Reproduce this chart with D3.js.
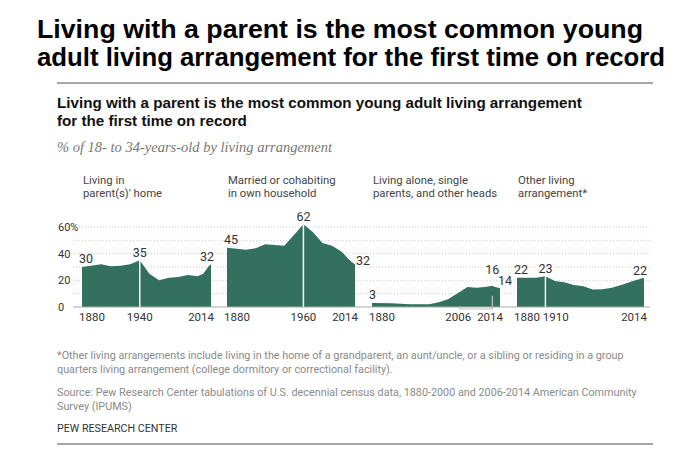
<html>
<head>
<meta charset="utf-8">
<script src="https://d3js.org/d3.v7.min.js"></script>
<style>
  body { margin: 0; background: #fff; }
  text { font-family: Roboto, "Liberation Sans", sans-serif; }
</style>
</head>
<body>
<svg id="chart" width="687" height="467"></svg>
<script>
// census years, then the annual ACS years
var years = [1880, 1900, 1910, 1920, 1930, 1940, 1950, 1960, 1970, 1980, 1990, 2000,
             2006, 2007, 2008, 2009, 2010, 2011, 2012, 2013, 2014];

var parentHome = [30, 32, 30.5, 31, 32, 35, 25, 20, 22, 22.5, 24, 23,
                  25, 26, 27, 28, 29, 30, 31, 31.5, 32];
var married    = [44.5, 43, 44, 47, 46.5, 46, 54, 62, 56, 48, 46, 41.5,
                  37, 36, 35.5, 35, 34, 33.5, 33, 32.5, 32];
var alone      = [3, 2.8, 2.5, 2, 2, 2, 3.5, 6, 10.5, 15, 14.5, 15.2,
                  16, 15.6, 15.2, 15, 14.8, 14.6, 14.4, 14.2, 14];
var other      = [22, 22, 23, 19.5, 18.5, 16.5, 15.5, 13.2, 13.3, 14.5, 16.5, 19,
                  20.3, 20.5, 20.7, 20.9, 21.1, 21.3, 21.5, 21.7, 21.8];

var yLabelTicks = [0, 20, 40, 60];
var gridTicks = [10, 20, 30, 40, 50, 60];

var panels = [
  {head: ["Living in", "parent(s)' home"], values: parentHome, ticks: [1880, 1940, 2014], peak: 1940, range: [82, 211], endSide: "above"},
  {head: ["Married or cohabiting", "in own household"], values: married, ticks: [1880, 1960, 2014], peak: 1960, range: [227, 355], endSide: "right"},
  {head: ["Living alone, single", "parents, and other heads"], values: alone, ticks: [1880, 2006, 2014], peak: 2006, range: [372, 500], endSide: "inside", bracket: true},
  {head: ["Other living", "arrangement*"], values: other, ticks: [1880, 1910, 2014], peak: 1910, range: [517, 644], endSide: "above"}
];

var green = "#33705e";
var svg = d3.select("#chart");

// big page title
svg.append("text").attr("x", 37).attr("y", 38)
  .style("font-family", "'Liberation Sans', Arial, sans-serif").style("font-weight", "bold")
  .style("font-size", "25px").attr("fill", "#000")
  .attr("textLength", 606).attr("lengthAdjust", "spacingAndGlyphs")
  .text("Living with a parent is the most common young");
svg.append("text").attr("x", 37).attr("y", 66)
  .style("font-family", "'Liberation Sans', Arial, sans-serif").style("font-weight", "bold")
  .style("font-size", "25px").attr("fill", "#000")
  .attr("textLength", 628).attr("lengthAdjust", "spacingAndGlyphs")
  .text("adult living arrangement for the first time on record");

svg.append("line").attr("x1", 57).attr("x2", 653).attr("y1", 83).attr("y2", 83)
  .attr("stroke", "#8a8a8a").attr("stroke-width", 1.5);

// chart title and subtitle
svg.append("text").attr("x", 57).attr("y", 108)
  .style("font-family", "'Liberation Sans', Arial, sans-serif").style("font-weight", "bold")
  .style("font-size", "15.2px").attr("fill", "#111")
  .text("Living with a parent is the most common young adult living arrangement");
svg.append("text").attr("x", 57).attr("y", 126)
  .style("font-family", "'Liberation Sans', Arial, sans-serif").style("font-weight", "bold")
  .style("font-size", "15.2px").attr("fill", "#111")
  .text("for the first time on record");
svg.append("text").attr("x", 57).attr("y", 152)
  .style("font-family", "'Liberation Serif', 'DejaVu Serif', serif").style("font-style", "italic")
  .style("font-size", "14.5px").attr("fill", "#777")
  .text("% of 18- to 34-years-old by living arrangement");

var y = d3.scaleLinear().domain([0, 60]).range([307, 227]);

// dotted grid + baseline
svg.append("g").selectAll("line").data(gridTicks).enter().append("line")
  .attr("x1", 73).attr("x2", 650)
  .attr("y1", function(d) { return y(d); }).attr("y2", function(d) { return y(d); })
  .attr("stroke", "#c8c8c8").attr("stroke-dasharray", "1,2");

svg.append("g").selectAll("text").data(yLabelTicks).enter().append("text")
  .attr("x", 58).attr("y", function(d) { return y(d) + 4; })
  .style("font-size", "11px").attr("fill", "#333")
  .text(function(d) { return d == 60 ? "60%" : d; });

panels.forEach(function(p) {
  var x = d3.scaleLinear().domain([1880, 2014]).range(p.range);
  var pts = years.map(function(yr, i) { return {year: yr, v: p.values[i]}; });
  var g = svg.append("g");

  var area = d3.area()
    .x(function(d) { return x(d.year); })
    .y0(y(0))
    .y1(function(d) { return y(d.v); });
  g.append("path").datum(pts).attr("d", area).attr("fill", green);

  var peakV = p.values[years.indexOf(p.peak)];
  if (p.bracket) {
    g.append("path")
      .attr("d", "M" + x(p.peak) + "," + (y(peakV) + 10) + "V309H460V306")
      .attr("fill", "none").attr("stroke", "#c4c4c4").attr("stroke-width", 1.2);
  } else {
    g.append("line").attr("x1", x(p.peak)).attr("x2", x(p.peak))
      .attr("y1", y(peakV)).attr("y2", y(0))
      .attr("stroke", "#fff").attr("stroke-width", 1.5);
  }

  // headers
  p.head.forEach(function(h, i) {
    g.append("text").attr("x", p.range[0] + 1).attr("y", 184 + i * 13)
      .style("font-size", "11.3px").attr("fill", "#444").text(h);
  });

  // value labels
  var first = p.values[0], last = p.values[p.values.length - 1];
  g.append("text").attr("x", x(1880) - 3).attr("y", y(first) - 4)
    .style("font-size", "12.5px").attr("fill", "#333").text(Math.round(first));
  g.append("text").attr("x", x(p.peak)).attr("y", p.bracket ? y(peakV) - 12 : y(peakV) - 3)
    .attr("text-anchor", "middle")
    .style("font-size", "12.5px").attr("fill", "#333").text(Math.round(peakV));
  var endLab = g.append("text").style("font-size", "12.5px").attr("fill", "#333").text(Math.round(last));
  if (p.endSide == "above") {
    endLab.attr("x", x(2014) + 3).attr("y", y(last) - 3).attr("text-anchor", "end");
  } else if (p.endSide == "right") {
    endLab.attr("x", x(2014) + 1).attr("y", y(last) + 1);
  } else {
    endLab.attr("x", x(2014) - 2).attr("y", y(last) - 3);
  }

  // year labels, nudged so they don't collide
  var labs = p.ticks.map(function(t) {
    return g.append("text").attr("y", 321).style("font-size", "11.5px").attr("fill", "#333").text(t);
  });
  var w = labs.map(function(l) { return l.node().getComputedTextLength(); });
  var left0 = x(p.ticks[0]) - 3;
  var right2 = x(p.ticks[2]) + 3;
  var mid = x(p.ticks[1]) - w[1] / 2;
  if (mid < left0 + w[0] + 3) mid = left0 + w[0] + 3;
  if (mid + w[1] > right2 - w[2] - 6) mid = right2 - w[2] - 6 - w[1];
  labs[0].attr("x", left0);
  labs[1].attr("x", mid);
  labs[2].attr("x", right2 - w[2]);
});

svg.append("line").attr("x1", 73).attr("x2", 650).attr("y1", y(0)).attr("y2", y(0))
  .attr("stroke", "#aaa").attr("stroke-width", 1.2);

// notes
var notes = [
  {t: "*Other living arrangements include living in the home of a grandparent, an aunt/uncle, or a sibling or residing in a group", y: 359},
  {t: "quarters living arrangement (college dormitory or correctional facility).", y: 373},
  {t: "Source: Pew Research Center tabulations of U.S. decennial census data, 1880-2000 and 2006-2014 American Community", y: 396},
  {t: "Survey (IPUMS)", y: 410}
];
svg.append("g").selectAll("text").data(notes).enter().append("text")
  .attr("x", 57).attr("y", function(d) { return d.y; })
  .style("font-size", "10.8px").attr("fill", "#8a8a8a")
  .text(function(d) { return d.t; });

svg.append("text").attr("x", 57).attr("y", 432)
  .style("font-size", "10.7px").attr("fill", "#333").text("PEW RESEARCH CENTER");

svg.append("line").attr("x1", 57).attr("x2", 653).attr("y1", 444).attr("y2", 444)
  .attr("stroke", "#8a8a8a").attr("stroke-width", 1.5);
</script>
</body>
</html>
